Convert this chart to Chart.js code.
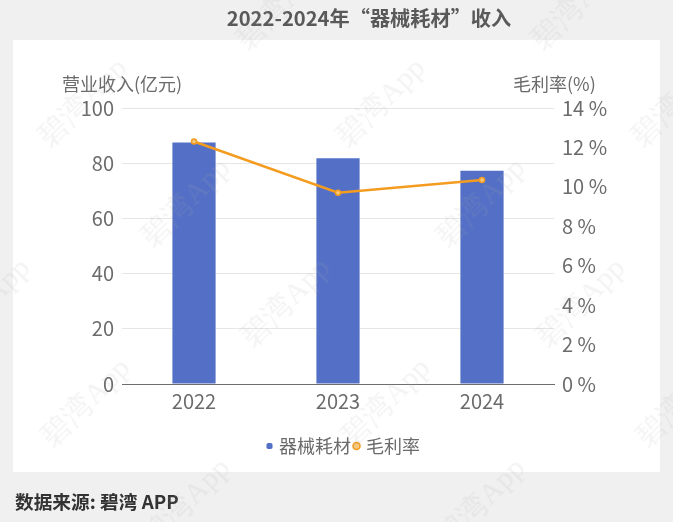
<!DOCTYPE html>
<html>
<head>
<meta charset="utf-8">
<script src="https://cdn.jsdelivr.net/npm/chart.js@4"></script>
<style>
  html, body { margin: 0; padding: 0; }
  body { width: 673px; height: 522px; background: #f0f0f0; position: relative; overflow: hidden;
         font-family: "Noto Sans CJK SC", "Noto Sans", sans-serif; }
  #panel { position: absolute; left: 13px; top: 40px; width: 647px; height: 432px; background: #fff; }
  #myChart { position: absolute; left: 0; top: 0; }
  .txt { position: absolute; white-space: nowrap; line-height: 1; }
  #title { left: 0; width: 738px; text-align: center; top: 8px; font-size: 20.2px; font-weight: 700; color: #595959; }
  #leftName { left: 62px; top: 74px; font-size: 18px; color: #6b6b6b; }
  #rightName { left: 513px; top: 74px; font-size: 18px; color: #6b6b6b; }
  #source { left: 15px; top: 492px; font-size: 18.7px; font-weight: 700; color: #333; }
  .mark { position: absolute; font-family: "Liberation Serif", serif; font-size: 30px; line-height: 1; white-space: nowrap;
          color: rgba(170,170,170,0.14); transform: translate(-50%, -50%) rotate(-45deg); pointer-events: none; }
</style>
</head>
<body>
<div id="panel"></div>
<canvas id="myChart" width="673" height="522"></canvas>
<div class="txt" id="title">2022-2024年“器械耗材”收入</div>
<div class="txt" id="leftName">营业收入(亿元)</div>
<div class="txt" id="rightName">毛利率(%)</div>
<div class="txt" id="source">数据来源: 碧湾 APP</div>
<script>
const categories = ["2022", "2023", "2024"];
const revenue = [87.5, 81.8, 77.3];
const margin = [12.3, 9.7, 10.35];

// watermark rows, just decoration
const markRows = [
  [5, [280, 575]],
  [102, [82, 380, 675]],
  [202, [185, 480]],
  [302, [-15, 285, 580]],
  [402, [85, 385, 680]],
  [502, [185, 480]],
];
markRows.forEach(([y, xs]) => {
  xs.forEach((x) => {
    const el = document.createElement("div");
    el.className = "mark";
    el.textContent = "碧湾App";
    el.style.left = x + "px";
    el.style.top = y + "px";
    document.body.appendChild(el);
  });
});

const tickFont = { family: '"Noto Sans CJK SC", "Noto Sans", sans-serif', size: 20 };
const legendFont = { family: '"Noto Sans CJK SC", "Noto Sans", sans-serif', size: 18 };
const canvas = document.getElementById("myChart");

new Chart(canvas.getContext("2d"), {
  data: {
    labels: categories,
    datasets: [
      {
        type: "bar",
        label: "器械耗材",
        data: revenue,
        yAxisID: "y",
        order: 2,
        backgroundColor: "#5470c6",
        pointStyle: "rectRounded",
        barPercentage: 0.3,
        categoryPercentage: 1,
      },
      {
        type: "line",
        label: "毛利率",
        data: margin,
        yAxisID: "y2",
        order: 1,
        borderColor: "#f39c1f",
        borderWidth: 2.5,
        backgroundColor: "#f7c97e",
        pointBorderColor: "#f39c1f",
        pointBackgroundColor: "#f7c97e",
        pointBorderWidth: 1.5,
        pointRadius: 2.5,
        pointStyle: "circle",
        tension: 0,
      },
    ],
  },
  options: {
    responsive: false,
    animation: false,
    // left padding only nudges the legend over, y.width below makes up for it
    layout: { padding: { top: 108, bottom: 57, left: 16 } },
    plugins: {
      title: { display: false },
      tooltip: { enabled: false },
      legend: {
        position: "bottom",
        labels: {
          usePointStyle: true,
          boxWidth: 1,
          boxHeight: 5,
          padding: 5,
          color: "#6b6b6b",
          font: legendFont,
          sort: (a, b) => a.datasetIndex - b.datasetIndex,
        },
      },
    },
    scales: {
      x: {
        grid: { display: false, tickLength: 0 },
        border: { color: "#6e6e6e", width: 1 },
        ticks: { color: "#6b6b6b", font: tickFont, padding: 5, maxRotation: 0 },
        afterFit: (axis) => { axis.height = 48; },
      },
      y: {
        position: "left",
        min: 0,
        max: 100,
        grid: { color: "#e4e6ea", drawTicks: false },
        border: { display: false },
        ticks: { stepSize: 20, color: "#6b6b6b", font: tickFont, padding: 8 },
        afterFit: (axis) => { axis.width = 106; },
      },
      y2: {
        position: "right",
        min: 0,
        max: 14,
        grid: { display: false, tickLength: 0 },
        border: { display: false },
        ticks: { stepSize: 2, color: "#6b6b6b", font: tickFont, padding: 8, callback: (v) => v + " %" },
        afterFit: (axis) => { axis.width = 119; },
      },
    },
  },
});
</script>
</body>
</html>
